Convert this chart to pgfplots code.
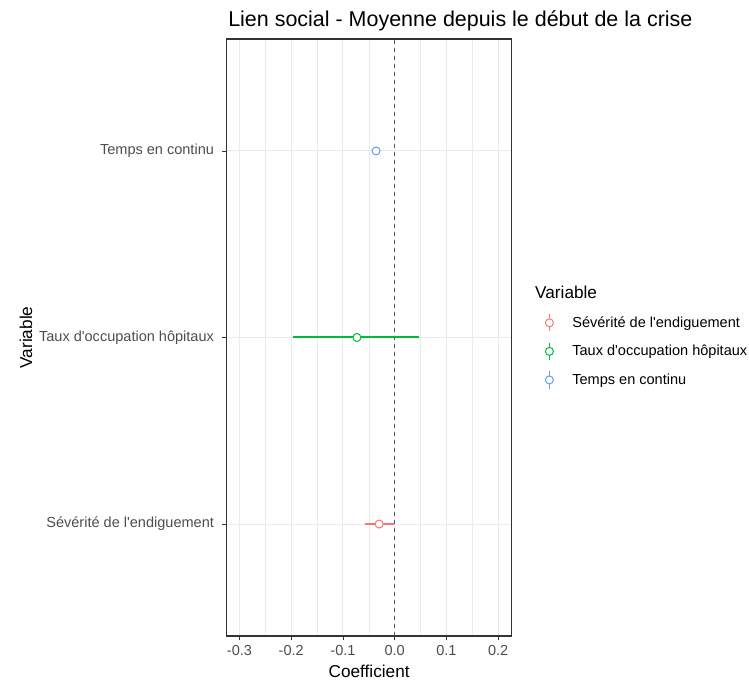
\documentclass[border=0pt]{standalone}
\usepackage{fontspec}
\setmainfont{Liberation Sans}[Ligatures=TeXOff]
\usepackage{pgfplots}
\pgfplotsset{compat=1.18}
\definecolor{ggred}{HTML}{F8766D}
\definecolor{gggreen}{HTML}{00BA38}
\definecolor{ggblue}{HTML}{619CFF}
\definecolor{txtgray}{HTML}{4D4D4D}
\definecolor{gridc}{HTML}{EBEBEB}
\definecolor{borderc}{HTML}{333333}
\begin{document}
\begin{tikzpicture}
\begin{axis}[
 scale only axis, width=213.75pt, height=447.75pt,
 clip mode=individual,
 xmin=-0.3247, xmax=0.226, ymin=0.4, ymax=3.6,
 xtick={-0.3,-0.2,-0.1,0,0.1,0.2},
 xticklabels={-0.3,-0.2,-0.1,0.0,0.1,0.2},
 minor xtick={-0.25,-0.15,-0.05,0.05,0.15},
 ytick={1,2,3},
 yticklabels={Sévérité de l'endiguement,Taux d'occupation hôpitaux,Temps en continu},
 xtick pos=bottom, ytick pos=left,
 grid=both,
 major grid style={draw=gridc, line width=0.8pt},
 minor grid style={draw=gridc, line width=0.4pt},
 minor tick length=0pt,
 axis line style={draw=borderc, line width=0.8pt},
 tick align=outside, major tick length=3.3pt,
 major tick style={draw=borderc, line width=0.6pt},
 xticklabel style={font=\fontsize{10.9}{12}\selectfont, text=txtgray},
 yticklabel style={font=\fontsize{10.9}{12}\selectfont, text=txtgray, xshift=-2.7pt},
 xlabel={Coefficient}, ylabel={Variable},
 label style={font=\fontsize{12.9}{15}\selectfont},
 xlabel style={at={(rel axis cs:0.5,-0.0586)}, anchor=center},
 ylabel style={at={(rel axis cs:-0.704,0.5)}, anchor=center},
 legend style={at={(rel axis cs:1.0895,0.540)}, anchor=north west, draw=none, fill=none,
   inner sep=0pt, outer sep=0pt, row sep=7.6pt, font=\fontsize{10.9}{12}\selectfont,
   cells={anchor=west}, /tikz/every odd column/.append style={column sep=6pt}},
]
\coordinate (ll) at (rel axis cs:0,0);
\coordinate (ur) at (rel axis cs:1,1);
\addplot[forget plot, draw=black!65, line width=0.6pt, dash pattern=on 3pt off 3pt] coordinates {(0,0.4) (0,3.6)};
% intervals
\addplot[forget plot, color=ggred, line width=1.1pt, mark=none] coordinates {(-0.057,1) (-0.002,1)};
\addplot[forget plot, draw={rgb,255:red,0;green,186;blue,56}, line width=1.1pt, mark=none] coordinates {(-0.196,2.003) (0.046,2.003)};
\addplot[forget plot, color=ggblue, line width=1.1pt, mark=none] coordinates {(-0.039,3) (-0.033,3)};
% points
\addplot[color=ggred, only marks, mark=*, mark size=3pt, mark options={draw=ggred, fill=white, line width=0.75pt},
  legend image code/.code={\draw[ggred, line width=0.8pt] (0pt,-6.5pt) -- (0pt,6.5pt); \draw[ggred, line width=0.75pt, fill=white] (0pt,0pt) circle (3pt); \path (-9pt,0pt) (9pt,0pt);}]
  coordinates {(-0.030,1)};
\addlegendentry{Sévérité de l'endiguement}
\addplot[color=gggreen, only marks, mark=*, mark size=3pt, mark options={draw=gggreen, fill=white, line width=0.75pt},
  legend image code/.code={\draw[gggreen, line width=0.8pt] (0pt,-6.5pt) -- (0pt,6.5pt); \draw[gggreen, line width=0.75pt, fill=white] (0pt,0pt) circle (3pt); \path (-9pt,0pt) (9pt,0pt);}]
  coordinates {(-0.073,2)};
\addlegendentry{Taux d'occupation hôpitaux}
\addplot[color=ggblue, only marks, mark=*, mark size=3pt, mark options={draw=ggblue, fill=white, line width=0.75pt},
  legend image code/.code={\draw[ggblue, line width=0.8pt] (0pt,-6.5pt) -- (0pt,6.5pt); \draw[ggblue, line width=0.75pt, fill=white] (0pt,0pt) circle (3pt); \path (-9pt,0pt) (9pt,0pt);}]
  coordinates {(-0.036,3)};
\addlegendentry{Temps en continu}
\end{axis}
\node[anchor=base west, inner sep=0pt, font=\fontsize{12.9}{15}\selectfont] at ([xshift=231.2pt,yshift=252.75pt]ll) {Variable};
\node[anchor=base west, inner sep=0pt, font=\fontsize{16.1}{19}\selectfont] at ([xshift=1pt,yshift=9.2pt]ur -| ll) {Lien social - Moyenne depuis le début de la crise};
\pgfresetboundingbox
\path ([xshift=-170pt,yshift=-33pt]ll) rectangle ([xshift=178pt,yshift=29.25pt]ur);
\end{tikzpicture}
\end{document}
